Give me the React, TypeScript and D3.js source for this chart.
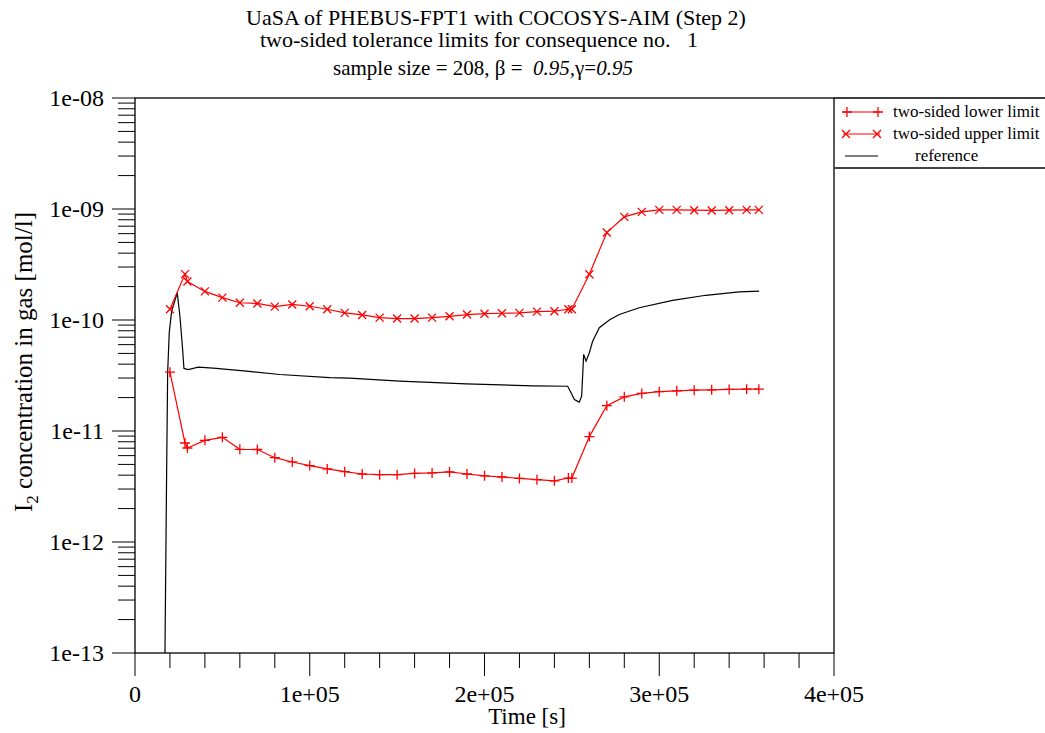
import React, { useEffect, useRef } from 'react'
import * as d3 from 'd3'

// marker times (s) shared by both tolerance limits
const times = [20000, 28600, 30000, 40000, 50000, 60000, 70000, 80000, 90000, 100000,
  110000, 120000, 130000, 140000, 150000, 160000, 170000, 180000, 190000, 200000,
  210000, 220000, 230000, 240000, 248000, 250000, 260000, 270000, 280000, 290000,
  300000, 310000, 320000, 330000, 340000, 350000, 357000]

const upper = [1.25e-10, 2.59e-10, 2.22e-10, 1.81e-10, 1.59e-10, 1.43e-10, 1.41e-10, 1.32e-10, 1.38e-10, 1.33e-10,
  1.25e-10, 1.16e-10, 1.11e-10, 1.05e-10, 1.03e-10, 1.03e-10, 1.05e-10, 1.08e-10, 1.12e-10, 1.14e-10,
  1.15e-10, 1.16e-10, 1.19e-10, 1.20e-10, 1.25e-10, 1.25e-10, 2.58e-10, 6.14e-10, 8.49e-10, 9.42e-10,
  9.82e-10, 9.82e-10, 9.76e-10, 9.70e-10, 9.76e-10, 9.82e-10, 9.82e-10]

const lower = [3.39e-11, 7.80e-12, 7.03e-12, 8.24e-12, 8.77e-12, 6.84e-12, 6.81e-12, 5.75e-12, 5.26e-12, 4.88e-12,
  4.55e-12, 4.30e-12, 4.10e-12, 4.04e-12, 4.04e-12, 4.15e-12, 4.19e-12, 4.28e-12, 4.10e-12, 3.95e-12,
  3.85e-12, 3.74e-12, 3.64e-12, 3.56e-12, 3.77e-12, 3.77e-12, 8.9e-12, 1.69e-11, 2.03e-11, 2.18e-11,
  2.26e-11, 2.30e-11, 2.33e-11, 2.35e-11, 2.37e-11, 2.38e-11, 2.38e-11]

// reference run
const refTimes = [17000, 17143, 18114, 18686, 19600, 20971, 24171, 25714, 27257, 28000, 30457, 36171,
  44743, 63829, 82857, 111429, 122857, 151429, 189543, 227600, 247600, 249543, 251429, 254286,
  255600, 256743, 258114, 260000, 261886, 265714, 271429, 277143, 288571, 307600, 326686, 345714, 357143]
const refValues = [1e-14, 1e-13, 4.49e-12, 3.37e-11, 7.73e-11, 1.20e-10, 1.76e-10, 1.08e-10, 5.43e-11, 3.66e-11, 3.58e-11, 3.76e-11,
  3.68e-11, 3.46e-11, 3.23e-11, 3.02e-11, 2.99e-11, 2.81e-11, 2.66e-11, 2.55e-11, 2.53e-11, 2.21e-11, 1.92e-11, 1.82e-11,
  2.06e-11, 4.90e-11, 4.26e-11, 5.07e-11, 6.45e-11, 8.53e-11, 9.98e-11, 1.12e-10, 1.29e-10, 1.50e-10, 1.67e-10, 1.79e-10, 1.82e-10]

const xTicks = [0, 100000, 200000, 300000, 400000]
const xTickLabels = ['0', '1e+05', '2e+05', '3e+05', '4e+05']
const yTicks = [1e-13, 1e-12, 1e-11, 1e-10, 1e-9, 1e-8]
const yTickLabels = ['1e-13', '1e-12', '1e-11', '1e-10', '1e-09', '1e-08']
const legendLabels = ['two-sided lower limit', 'two-sided upper limit', 'reference']

const FONT = '"Liberation Serif", "Times New Roman", serif'
const RED = '#ff0000'

export default function App() {
  const svgRef = useRef<SVGSVGElement>(null)

  useEffect(() => {
    const W = 1045, H = 733
    const left = 135, right = 834, top = 98, bottom = 653

    const x = d3.scaleLinear().domain([0, 400000]).range([left, right])
    const y = d3.scaleLog().domain([1e-13, 1e-8]).range([bottom, top])

    const svg = d3.select(svgRef.current)
    svg.selectAll('*').remove()
    svg.attr('width', W).attr('height', H).style('font-family', FONT)

    svg.append('rect').attr('width', W).attr('height', H).attr('fill', '#fff')

    // title
    const title = svg.append('g').attr('fill', '#000').style('font-size', '22px')
    title.append('text').attr('x', 246).attr('y', 25).text('UaSA of PHEBUS-FPT1 with COCOSYS-AIM (Step 2)')
    title.append('text').attr('x', 260).attr('y', 47).attr('xml:space', 'preserve')
      .text('two-sided tolerance limits for consequence no.   1')
    const t3 = title.append('text').attr('x', 333).attr('y', 75).attr('xml:space', 'preserve')
      .style('font-size', '21px')
    t3.append('tspan').text('sample size = 208, \u03b2 =  ')
    t3.append('tspan').style('font-style', 'italic').text('0.95,')
    t3.append('tspan').text('\u03b3=')
    t3.append('tspan').style('font-style', 'italic').text('0.95')

    // clip
    svg.append('clipPath').attr('id', 'plotclip')
      .append('rect').attr('x', left).attr('y', top).attr('width', right - left).attr('height', bottom - top)

    // y axis ticks (log minors)
    const yAxisG = svg.append('g').attr('stroke', '#000').attr('stroke-width', 1)
    yTicks.forEach((t, i) => {
      yAxisG.append('line').attr('x1', left - 23).attr('x2', left).attr('y1', y(t)).attr('y2', y(t))
      if (i < yTicks.length - 1) {
        for (let m = 2; m <= 9; m++) {
          const v = t * m
          yAxisG.append('line').attr('x1', left - 17).attr('x2', left).attr('y1', y(v)).attr('y2', y(v))
        }
      }
    })
    svg.append('g').selectAll('text').data(yTicks).enter().append('text')
      .attr('x', 104).attr('y', d => y(d)).attr('dy', '0.35em')
      .attr('text-anchor', 'end').style('font-size', '24px')
      .text((d, i) => yTickLabels[i])

    // x axis ticks
    const xAxisG = svg.append('g').attr('stroke', '#000').attr('stroke-width', 1)
    d3.range(0, 400001, 20000).forEach(t => {
      const major = t % 100000 === 0
      xAxisG.append('line').attr('x1', x(t)).attr('x2', x(t)).attr('y1', bottom).attr('y2', bottom + (major ? 23 : 15))
    })
    svg.append('g').selectAll('text').data(xTicks).enter().append('text')
      .attr('x', d => x(d)).attr('y', 702).attr('text-anchor', 'middle').style('font-size', '24px')
      .text((d, i) => xTickLabels[i])

    // axis labels
    svg.append('text').attr('x', 527).attr('y', 724).attr('text-anchor', 'middle').style('font-size', '23px')
      .text('Time [s]')
    const yl = svg.append('text').attr('transform', 'translate(32,362) rotate(-90)')
      .attr('text-anchor', 'middle').style('font-size', '25px')
    yl.append('tspan').text('I')
    yl.append('tspan').attr('dy', 6).style('font-size', '17px').text('2')
    yl.append('tspan').attr('dy', -6).text(' concentration in gas [mol/l]')

    // frame
    svg.append('rect').attr('x', left).attr('y', top).attr('width', right - left).attr('height', bottom - top)
      .attr('fill', 'none').attr('stroke', '#000').attr('stroke-width', 1.3)
    svg.append('line').attr('x1', right).attr('x2', W).attr('y1', top).attr('y2', top)
      .attr('stroke', '#000').attr('stroke-width', 1.3)
    svg.append('line').attr('x1', right).attr('x2', W).attr('y1', 168).attr('y2', 168)
      .attr('stroke', '#444').attr('stroke-width', 2)

    const plot = svg.append('g').attr('clip-path', 'url(#plotclip)')
    const line = d3.line<[number, number]>().x(d => x(d[0])).y(d => y(d[1]))

    // reference line
    plot.append('path').datum(refTimes.map((t, i) => [t, refValues[i]] as [number, number]))
      .attr('d', line).attr('fill', 'none').attr('stroke', '#000').attr('stroke-width', 1.2)

    const lowPts = times.map((t, i) => [t, lower[i]] as [number, number])
    const upPts = times.map((t, i) => [t, upper[i]] as [number, number])

    plot.append('path').datum(lowPts).attr('d', line).attr('fill', 'none').attr('stroke', RED).attr('stroke-width', 1.2)
    plot.append('path').datum(upPts).attr('d', line).attr('fill', 'none').attr('stroke', RED).attr('stroke-width', 1.2)

    const plus = (g: any, cx: number, cy: number) => {
      g.append('path').attr('d', `M${cx - 5},${cy}H${cx + 5}M${cx},${cy - 5}V${cy + 5}`)
        .attr('stroke', RED).attr('stroke-width', 1.3).attr('fill', 'none')
    }
    const cross = (g: any, cx: number, cy: number) => {
      g.append('path').attr('d', `M${cx - 4},${cy - 4}L${cx + 4},${cy + 4}M${cx - 4},${cy + 4}L${cx + 4},${cy - 4}`)
        .attr('stroke', RED).attr('stroke-width', 1.3).attr('fill', 'none')
    }
    lowPts.forEach(d => plus(plot, x(d[0]), y(d[1])))
    upPts.forEach(d => cross(plot, x(d[0]), y(d[1])))

    // legend
    const lg = svg.append('g').style('font-size', '17px')
    const ly = [112, 134, 156]
    lg.append('line').attr('x1', 843).attr('x2', 880).attr('y1', ly[0]).attr('y2', ly[0]).attr('stroke', RED).attr('stroke-width', 1.2)
    plus(lg, 847, ly[0]); plus(lg, 878, ly[0])
    lg.append('line').attr('x1', 843).attr('x2', 880).attr('y1', ly[1]).attr('y2', ly[1]).attr('stroke', RED).attr('stroke-width', 1.2)
    cross(lg, 846, ly[1]); cross(lg, 877, ly[1])
    lg.append('line').attr('x1', 845).attr('x2', 878).attr('y1', ly[2]).attr('y2', ly[2]).attr('stroke', '#000').attr('stroke-width', 1.2)
    lg.append('text').attr('x', 893).attr('y', ly[0] + 5).text(legendLabels[0])
    lg.append('text').attr('x', 893).attr('y', ly[1] + 5).text(legendLabels[1])
    lg.append('text').attr('x', 915).attr('y', ly[2] + 5).text(legendLabels[2])
  }, [])

  return <div style={{ position: 'absolute', left: 0, top: 0 }}>
    <svg ref={svgRef} />
  </div>
}
